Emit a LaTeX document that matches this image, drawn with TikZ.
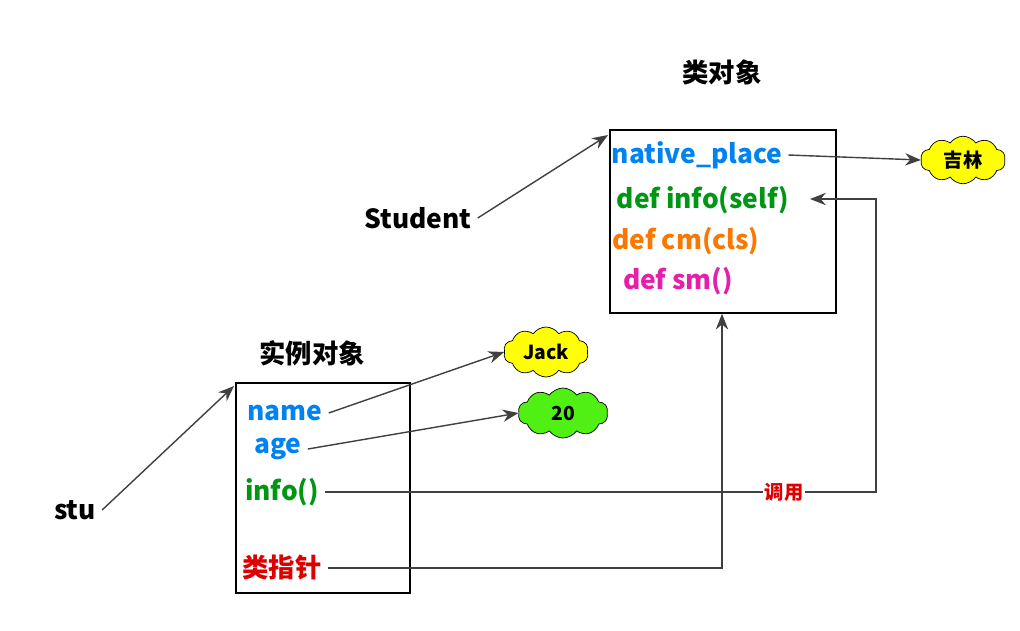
\documentclass[tikz,border=0pt]{standalone}
\usepackage{fontspec}
\setmainfont{Noto Sans CJK SC}
\usetikzlibrary{shapes.symbols,arrows.meta}
\definecolor{fblue}{RGB}{0,130,240}
\definecolor{fgreen}{RGB}{0,150,20}
\definecolor{forange}{RGB}{250,120,0}
\definecolor{fpink}{RGB}{230,30,170}
\definecolor{fred}{RGB}{220,0,0}
\definecolor{cyellow}{RGB}{255,255,0}
\definecolor{cgreen}{RGB}{80,240,20}
\begin{document}
\begin{tikzpicture}[x=0.02cm,y=-0.02cm,
        every node/.style={font=\bfseries\fontsize{15}{18}\selectfont},
        objbox/.style={draw,thick,inner sep=0pt},
        bubble/.style={cloud,draw,cloud puffs=10,cloud puff arc=110,aspect=1.6,
            inner sep=0pt,font=\bfseries\fontsize{11}{13}\selectfont},
        link/.style={draw=black!75,thick,-{Stealth[length=9pt,width=7pt]}}]
    \useasboundingbox (0,0) rectangle (1020,630);

    % class object
    \node (ctitle) at (722,72) {类对象};
    \node[objbox,minimum width=4.52cm,minimum height=3.66cm] (cls) at (723,221.5) {};
    \node[text=fblue] (place) at (697,155) {native\_place};
    \node[text=fgreen] (info) at (703,200) {def info(self)};
    \node[text=forange] (cm) at (686,241) {def cm(cls)};
    \node[text=fpink] (sm) at (678,281) {def sm()};
    \node[bubble,fill=cyellow,minimum width=1.7cm,minimum height=0.95cm] (jl) at (963,160) {吉林};
    \node (student) at (418,218) {Student};

    % instance object
    \node (ititle) at (312,353) {实例对象};
    \node[objbox,minimum width=3.48cm,minimum height=4.2cm] (ins) at (323,488) {};
    \node[text=fblue] (name) at (285,413) {name};
    \node[text=fblue] (age) at (278,449) {age};
    \node[text=fgreen] (call) at (282,492) {info()};
    \node[text=fred] (ptr) at (282,568) {类指针};
    \node[bubble,fill=cyellow,minimum width=1.7cm,minimum height=1cm] (jack) at (546,352) {Jack};
    \node[bubble,fill=cgreen,minimum width=1.8cm,minimum height=1cm] (num) at (563,413) {20};
    \node (stu) at (75,510) {stu};

    \coordinate (clsin) at (608,135);
    \coordinate (insin) at (234,386);
    \coordinate (cr) at (876,492);
    \coordinate (ct) at (876,199);
    \coordinate (infoend) at (810,199);
    \coordinate (pr) at (722,568);

    \draw[link] (student.east) -- (clsin);
    \draw[link] (stu.east) -- (insin);
    \draw[link] (place.east) -- (jl.west);
    \draw[link] (name.east) -- (jack.west);
    \draw[link] (age.east) -- (num.west);
    \draw[link] (call.east) -- (cr) -- (ct) -- (infoend);
    \node[fill=white,inner sep=1pt,text=fred,font=\bfseries\fontsize{11}{13}\selectfont] (tiao) at (784,492) {调用};
    \draw[link] (ptr.east) -- (pr) -- (cls.south -| pr);
\end{tikzpicture}
\end{document}
